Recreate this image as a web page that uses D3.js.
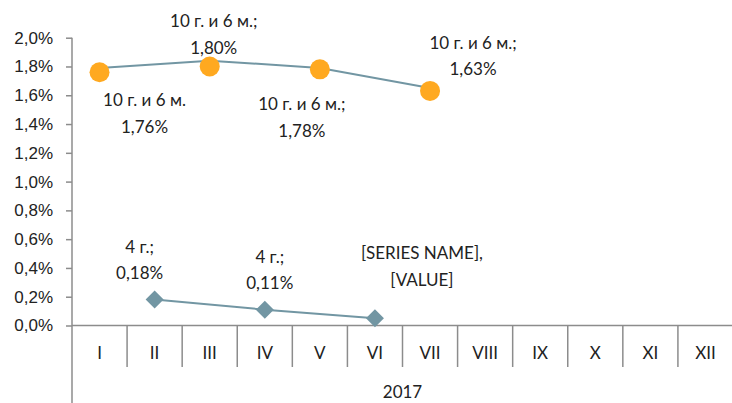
<!DOCTYPE html>
<html>
<head>
<meta charset="utf-8">
<script src="https://cdn.jsdelivr.net/npm/d3@7"></script>
<style>
  body { margin: 0; background: #fff; }
  svg { display: block; font-family: Lato, "Open Sans", sans-serif; }
</style>
</head>
<body>
<svg id="chart" width="732" height="403"></svg>
<script>
// Data.
const months = ['I', 'II', 'III', 'IV', 'V', 'VI', 'VII', 'VIII', 'IX', 'X', 'XI', 'XII'];
const year = '2017';
const yTicks = [0, 0.2, 0.4, 0.6, 0.8, 1.0, 1.2, 1.4, 1.6, 1.8, 2.0];

const dotMonths = ['I', 'III', 'V', 'VII'];
const dotValues = [1.76, 1.80, 1.78, 1.63];
const dotLine = [1.79, 1.84, 1.79, 1.65];   // the connecting line sits a bit above the dots
const dotLabels = [['10 г. и 6 м.', '1,76%'], ['10 г. и 6 м.;', '1,80%'],
                   ['10 г. и 6 м.;', '1,78%'], ['10 г. и 6 м.;', '1,63%']];

const diamondMonths = ['II', 'IV', 'VI'];
const diamondValues = [0.18, 0.11, 0.05];
const diamondLabels = [['4 г.;', '0,18%'], ['4 г.;', '0,11%'], ['[SERIES NAME],', '[VALUE]']];

// Label placement relative to the point (dx, dy of first baseline).
const dotLabelPos = [[45, 34], [4, -39], [-18, 41], [43, -42]];
const diamondLabelPos = [[-15, -47], [5, -47], [47, -59]];

const colDot = '#ffa920', colLine = '#7296a3', colAxis = '#8c8c8c', colText = '#222';
const fontSize = '17px';

const svg = d3.select('#chart');
const x = d3.scaleBand().domain(months).range([72, 733]);
const y = d3.scaleLinear().domain([0, 2.0]).range([325.5, 37.7]);
const fmt = (v) => d3.format('.1f')(v).replace('.', ',') + '%';

// Y axis.
const yAxis = svg.append('g').attr('transform', 'translate(72,0)')
  .call(d3.axisLeft(y).tickValues(yTicks).tickFormat(fmt).tickSize(6).tickPadding(13));
yAxis.select('.domain').remove();
yAxis.selectAll('line').attr('stroke', colAxis).attr('stroke-width', 1.5);
yAxis.selectAll('text').attr('fill', colText).style('font-size', fontSize);
svg.append('line').attr('x1', 72).attr('x2', 72).attr('y1', y(2.0)).attr('y2', 403)
  .attr('stroke', colAxis).attr('stroke-width', 1.5);

// X axis with category separators.
svg.append('line').attr('x1', 72).attr('x2', 733).attr('y1', y(0)).attr('y2', y(0))
  .attr('stroke', colAxis).attr('stroke-width', 1.5);
svg.selectAll('.sep').data(months.slice(1)).join('line')
  .attr('class', 'sep')
  .attr('x1', (d) => x(d)).attr('x2', (d) => x(d))
  .attr('y1', y(0)).attr('y2', 367)
  .attr('stroke', colAxis).attr('stroke-width', 1.5);
svg.selectAll('.cat').data(months).join('text')
  .attr('class', 'cat')
  .attr('x', (d) => x(d) + x.bandwidth() / 2).attr('y', 359)
  .attr('text-anchor', 'middle').attr('fill', colText).style('font-size', fontSize)
  .text((d) => d);
svg.append('text').attr('x', (x.range()[0] + x.range()[1]) / 2).attr('y', 398)
  .attr('text-anchor', 'middle').attr('fill', colText).style('font-size', fontSize).text(year);

const cx = (m) => x(m) + x.bandwidth() / 2;

// Lines.
const line = d3.line().x((d) => cx(d[0])).y((d) => y(d[1]));
svg.append('path').datum(d3.zip(dotMonths, dotLine))
  .attr('d', line).attr('fill', 'none').attr('stroke', colLine).attr('stroke-width', 2);
svg.append('path').datum(d3.zip(diamondMonths, diamondValues))
  .attr('d', line).attr('fill', 'none').attr('stroke', colLine).attr('stroke-width', 2);

// Markers.
svg.selectAll('.dot').data(d3.zip(dotMonths, dotValues)).join('circle')
  .attr('class', 'dot')
  .attr('cx', (d) => cx(d[0])).attr('cy', (d) => y(d[1])).attr('r', 10)
  .attr('fill', colDot);
svg.selectAll('.dia').data(d3.zip(diamondMonths, diamondValues)).join('path')
  .attr('class', 'dia')
  .attr('transform', (d) => `translate(${cx(d[0])},${y(d[1])})`)
  .attr('d', 'M0,-9L9,0L0,9L-9,0Z')
  .attr('fill', colLine);

// Data labels.
function labels(ms, vs, texts, pos) {
  ms.forEach((m, i) => {
    const t = svg.append('text')
      .attr('x', cx(m) + pos[i][0]).attr('y', y(vs[i]) + pos[i][1])
      .attr('text-anchor', 'middle').attr('fill', colText).style('font-size', fontSize);
    texts[i].forEach((s, j) => {
      t.append('tspan').attr('x', cx(m) + pos[i][0]).attr('dy', j === 0 ? 0 : 26.5).text(s);
    });
  });
}
labels(dotMonths, dotValues, dotLabels, dotLabelPos);
labels(diamondMonths, diamondValues, diamondLabels, diamondLabelPos);
</script>
</body>
</html>
